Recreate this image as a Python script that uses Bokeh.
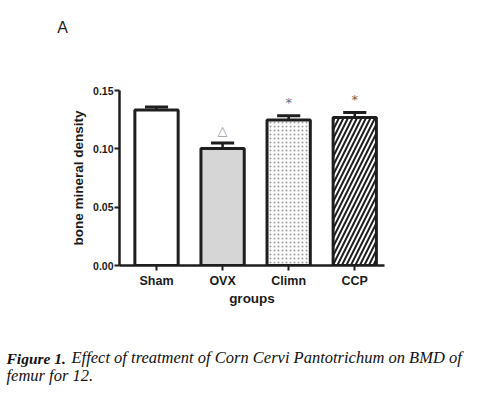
from bokeh.plotting import figure
from bokeh.layouts import column
from bokeh.models import Range1d, FixedTicker, Label, ColumnDataSource, PrintfTickFormatter
from bokeh.core.properties import value
from bokeh.embed import file_html
from bokeh.resources import INLINE

# ---- data ----
groups = ["Sham", "OVX", "Climn", "CCP"]
bmd = [0.1333, 0.1003, 0.1247, 0.1270]
sem = [0.0027, 0.0047, 0.0037, 0.0043]
marks = ["", "\u25b3", "*", "*"]
mark_colors = ["#ffffff", "#9a9a9a", "#5a6f92", "#80603f"]
y_ticks = [0.0, 0.05, 0.10, 0.15]
panel_letter = "A"
caption_bold = "Figure 1."
caption_line1 = "Effect of treatment of Corn Cervi Pantotrichum on BMD of"
caption_line2 = "femur for 12."

xs = list(range(len(groups)))
tops = [b + s for b, s in zip(bmd, sem)]

W = 474


def blank(height):
    f = figure(width=W, height=height, output_backend="svg", toolbar_location=None,
               x_axis_location=None, y_axis_location=None, min_border=0,
               x_range=Range1d(0, 1), y_range=Range1d(0, 1))
    f.outline_line_color = None
    f.xgrid.visible = False
    f.ygrid.visible = False
    f.frame_align = False
    return f


# header with panel letter
head = blank(60)
head.add_layout(Label(x=62, y=25, x_units="screen", y_units="screen", text=panel_letter,
                      text_font="Liberation Sans", text_font_size="16px", text_align="center",
                      text_color="#222222"))

# main chart
p = figure(width=W, height=275, output_backend="svg", toolbar_location=None,
           x_range=Range1d(-0.56, 3.45), y_range=Range1d(0, 0.1501),
           min_border_left=119, min_border_right=90, min_border_top=30, min_border_bottom=70)
p.frame_align = False
p.outline_line_color = None
p.xgrid.visible = False
p.ygrid.visible = False

bw = 0.655
lc = "#1e1e1e"
p.vbar(x=[xs[0]], top=[bmd[0]], width=bw, fill_color="white", line_color=lc, line_width=3)
p.vbar(x=[xs[1]], top=[bmd[1]], width=bw, fill_color="#d6d6d6", line_color=lc, line_width=3)
p.vbar(x=[xs[2]], top=[bmd[2]], width=bw, fill_color="white", line_color=lc, line_width=3,
       hatch_pattern="dot", hatch_scale=4, hatch_weight=1, hatch_color="#9a9a9a")
p.vbar(x=[xs[3]], top=[bmd[3]], width=bw, fill_color="white", line_color=lc, line_width=3,
       hatch_pattern="right_diagonal_line", hatch_scale=9, hatch_weight=2, hatch_color="#1e1e1e")

# error bars (upper only)
p.segment(x0=xs, y0=bmd, x1=xs, y1=tops, line_color=lc, line_width=2.5)
cap = 0.175
p.segment(x0=[x - cap for x in xs], y0=tops, x1=[x + cap for x in xs], y1=tops,
          line_color=lc, line_width=3)

# significance marks
src = ColumnDataSource(dict(x=xs, y=tops, t=marks, c=mark_colors))
p.text(x="x", y="y", text="t", text_color="c", source=src, text_align="center",
       text_baseline="middle", y_offset=-13, text_font_size="13px",
       text_font=value("DejaVu Sans"))

for ax in (p.xaxis[0], p.yaxis[0]):
    ax.axis_line_width = 2.5
    ax.axis_line_color = lc
    ax.major_tick_line_width = 2
    ax.major_tick_line_color = lc
    ax.major_tick_out = 5
    ax.major_tick_in = 0
    ax.minor_tick_line_color = None
    ax.major_label_text_font = "Liberation Sans"
    ax.major_label_text_font_style = "bold"
    ax.major_label_text_color = "#1a1a1a"
    ax.axis_label_text_font = "Liberation Sans"
    ax.axis_label_text_font_style = "bold"
    ax.axis_label_text_color = "#1a1a1a"

p.yaxis.ticker = FixedTicker(ticks=y_ticks)
p.yaxis.formatter = PrintfTickFormatter(format="%.2f")
p.yaxis.major_label_text_font_size = "10.5px"
p.yaxis.major_label_standoff = 1
p.yaxis.axis_label = "bone mineral density"
p.yaxis.axis_label_text_font_size = "13.5px"
p.yaxis.axis_label_standoff = 4

p.xaxis.ticker = FixedTicker(ticks=xs)
p.xaxis.major_label_overrides = {i: g for i, g in enumerate(groups)}
p.xaxis.major_label_text_font_size = "12.5px"
p.xaxis.major_label_standoff = 3
p.xaxis.axis_label = "groups"
p.xaxis.axis_label_text_font_size = "13.5px"
p.xaxis.axis_label_standoff = 0

# caption
capfig = blank(58)
capfig.add_layout(Label(x=6, y=27, x_units="screen", y_units="screen", text=caption_bold,
                        text_font="Liberation Serif", text_font_style="bold italic",
                        text_font_size="15.5px", text_color="#111111"))
capfig.add_layout(Label(x=71, y=27, x_units="screen", y_units="screen", text=caption_line1,
                        text_font="Liberation Serif", text_font_style="italic",
                        text_font_size="16.5px", text_color="#111111"))
capfig.add_layout(Label(x=6, y=9, x_units="screen", y_units="screen", text=caption_line2,
                        text_font="Liberation Serif", text_font_style="italic",
                        text_font_size="16.5px", text_color="#111111"))

layout = column(head, p, capfig, spacing=0)
open("out.html", "w").write(file_html(layout, INLINE))
